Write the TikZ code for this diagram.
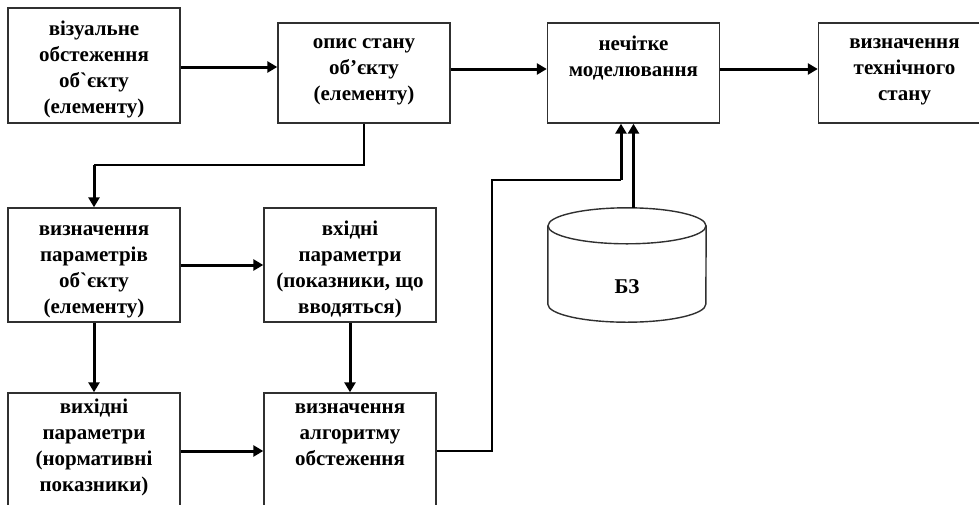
\documentclass[tikz,border=0pt]{standalone}
\usepackage{fontspec}
\setmainfont{Liberation Serif}
% same face without TeX ligatures, so that ` stays a grave sign
\newfontfamily\rawserif{Liberation Serif}
\usetikzlibrary{arrows.meta}
\definecolor{boxline}{HTML}{303030}

% text block of a box: height, gap above first line, lines
\newcommand\boxlines[3]{\parbox[c][#1][t]{172pt}{\centering\vspace*{#2}\strut #3}}
\newcommand\gravesign{{\rawserif\bfseries`}}

\begin{document}
\begin{tikzpicture}[x=1pt,y=1pt,
  box/.style={draw=boxline, line width=1.4pt, fill=white, inner sep=0pt,
    font=\bfseries\fontsize{21}{26}\selectfont},
  base/.style={line width=1.4pt, draw=boxline},
  link/.style={draw=black, line width=1.4pt},
  flow/.style={draw=black, line width=3pt, -{Triangle[length=10pt,width=11pt]}}]

% page frame
\clip (0,0) rectangle (979,-504);
\fill[white] (0,0) rectangle (979,-504);

% top row
\node[box] (b1) at (94,-65.5)
  {\boxlines{115pt}{9.5pt}{візуальне\\обстеження\\об\gravesign єкту\\(елементу)}};
\node[box] (b2) at (364,-73)
  {\boxlines{100pt}{7pt}{опис стану\\об’єкту\\(елементу)}};
\node[box] (b3) at (633.5,-73)
  {\boxlines{100pt}{9pt}{нечітке\\моделювання}};
\node[box] (b4) at (904.5,-73)
  {\boxlines{100pt}{7pt}{визначення\\технічного\\стану}};

% middle row
\node[box] (b5) at (94,-265)
  {\boxlines{114pt}{9pt}{визначення\\параметрів\\об\gravesign єкту\\(елементу)}};
\node[box] (b6) at (350,-265)
  {\boxlines{114pt}{9pt}{вхідні\\параметри\\(показники, що\\вводяться)}};

% bottom row
\node[box] (b7) at (94,-451)
  {\boxlines{116pt}{2pt}{вихідні\\параметри\\(нормативні\\показники)}};
\node[box] (b8) at (350,-451)
  {\boxlines{116pt}{2pt}{визначення\\алгоритму\\обстеження}};

% knowledge base: label node, cylinder drawn round it
\node[inner sep=0pt, minimum width=158pt, minimum height=114pt,
  text height=60pt, text depth=4pt,
  font=\bfseries\fontsize{21}{26}\selectfont] (db) at (627,-265) {БЗ};
\draw[base] ([yshift=-18pt]db.north west) -- ([yshift=18pt]db.south west)
  arc[start angle=180, end angle=360, x radius=79pt, y radius=18pt]
  -- ([yshift=-18pt]db.north east);
\draw[base] ([yshift=-18pt]db.north) ellipse[x radius=79pt, y radius=18pt];

% connectors
\draw[flow] ([yshift=-1.5pt]b1.east) -- ([yshift=-1.5pt]b1.east -| b2.west);
\draw[flow] ([yshift=4pt]b2.east) -- ([yshift=4pt]b2.east -| b3.west);
\draw[flow] ([yshift=4pt]b3.east) -- ([yshift=4pt]b3.east -| b4.west);

\coordinate (t1) at (94,-165);
\draw[link] (b2.south) |- (t1);
\draw[flow] (t1) -- (b5.north);

\draw[flow] (b5.east) -- (b5.east -| b6.west);
\draw[flow] (b5.south) -- (b7.north);
\draw[flow] (b6.south) -- (b8.north);
\draw[flow] (b7.east) -- (b7.east -| b8.west);

\coordinate (t2) at (492,-180);
\coordinate (t3) at (621,-180);
\draw[link] (b8.east) -| (t2) -- (t3);
\draw[flow] (t3) -- (t3 |- b3.south);
\draw[flow] (db.north -| b3.south) -- (b3.south);
\end{tikzpicture}
\end{document}
